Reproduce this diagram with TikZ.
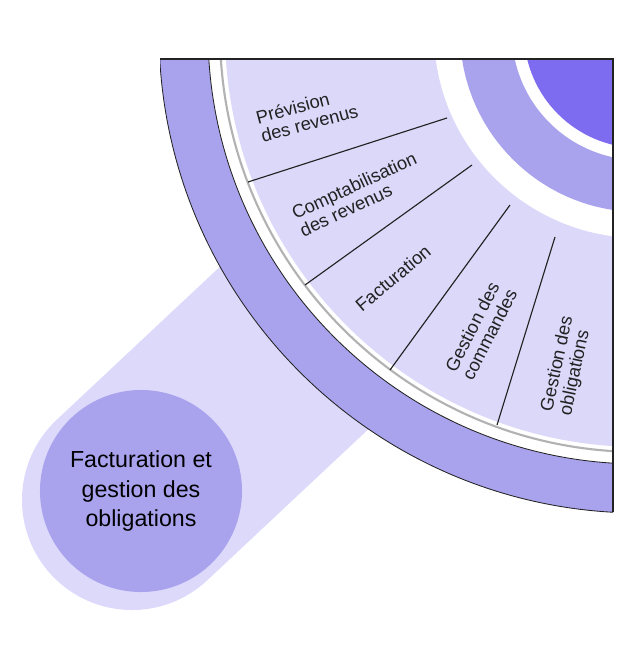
\documentclass[tikz,border=0pt]{standalone}
\usepackage{fontspec}
\setmainfont{Liberation Sans}
\usetikzlibrary{positioning}
\definecolor{ringmid}{HTML}{A9A3EE}
\definecolor{ringlight}{HTML}{DCD8FA}
\definecolor{ringdark}{HTML}{7D6BF0}
\definecolor{tubepale}{HTML}{DDD9FB}
\definecolor{edgegray}{HTML}{222222}
\begin{document}
\begin{tikzpicture}[
    x=0.025cm, y=-0.025cm,
    seglabel/.style={
        font=\fontsize{13}{13.5}\selectfont,
        text=edgegray,
        align=left
    },
    segline/.style={
        draw=edgegray,
        line width=0.8pt
    }
]
\useasboundingbox (0,0) rectangle (640,668);

% Tube and end circle
\draw[tubepale, line width=5.5cm, line cap=round] (132,500) -- (420,230);
\node[circle, fill=ringmid, minimum size=5.05cm, inner sep=0pt,
      font=\fontsize{16.5}{21}\selectfont, align=center] (topic) at (141,491)
      {Facturation et\\gestion des\\obligations};

% Quarter wheel
\coordinate (hub) at (640,32);
\begin{scope}
\clip (160,59) rectangle (613,512);
\fill[ringmid] (hub) circle (481);
\draw[edgegray, line width=0.6pt] (hub) circle (481);
\fill[white] (hub) circle (432);
\draw[gray!60, line width=1.5pt] (hub) circle (420);
\fill[ringlight] (hub) circle (415);
\draw[edgegray, line width=0.6pt] (hub) circle (432);
\fill[white] (hub) circle (206);
\fill[ringmid] (hub) circle (180);
\fill[white] (hub) circle (128);
\fill[ringdark] (hub) circle (116);
\end{scope}
\draw[edgegray, line width=0.8pt] (160,59) -- (613,59) -- (613,512);

% Dividers
\coordinate (d1a) at (447,118); \coordinate (d1b) at (248,182);
\coordinate (d2a) at (472,165); \coordinate (d2b) at (305,285);
\coordinate (d3a) at (510,205); \coordinate (d3b) at (390,370);
\coordinate (d4a) at (555,237); \coordinate (d4b) at (497,425);
\foreach \i in {1,...,4}
    \draw[segline] (d\i a) -- (d\i b);

% Labels
\node[seglabel, rotate=15] (prev) at (307,114) {Prévision\\des revenus};
\node[seglabel, rotate=25] (compta) at (358,194) {Comptabilisation\\des revenus};
\node[seglabel, rotate=40] (factu) at (393,278) {Facturation};
\node[seglabel, rotate=63] (cmd) at (481,330) {Gestion des\\commandes};
\node[seglabel, rotate=78] (oblig) at (567,366) {Gestion des\\obligations};

\end{tikzpicture}
\end{document}
